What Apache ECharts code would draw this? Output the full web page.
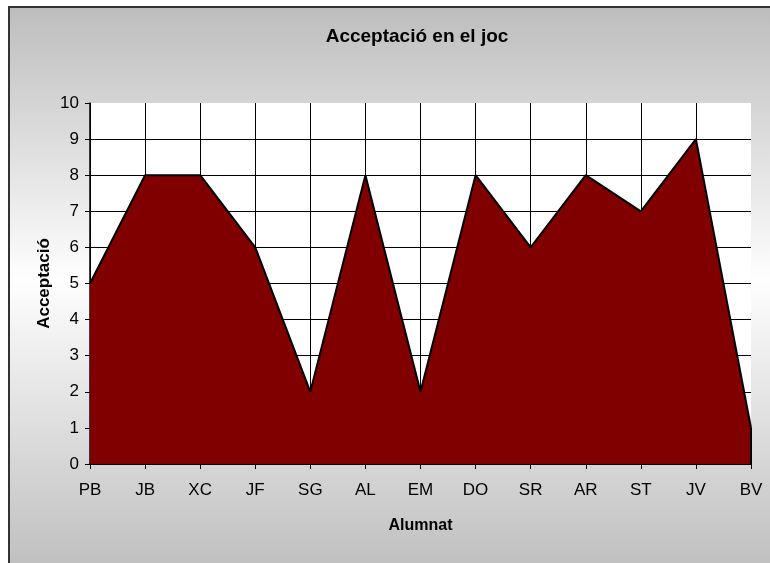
<!DOCTYPE html>
<html>
<head>
<meta charset="utf-8">
<script src="https://cdn.jsdelivr.net/npm/echarts@6/dist/echarts.min.js"></script>
<style>
    html, body { margin: 0; padding: 0; background: #fff; }
    #chart { width: 770px; height: 563px; }
</style>
</head>
<body>
<div id="chart"></div>
<script>
    // dades llegides del gràfic
    var alumnes = ['PB', 'JB', 'XC', 'JF', 'SG', 'AL', 'EM', 'DO', 'SR', 'AR', 'ST', 'JV', 'BV'];
    var acceptacio = [5, 8, 8, 6, 2, 8, 2, 8, 6, 8, 7, 9, 1];
    var yTicks = [0, 1, 2, 3, 4, 5, 6, 7, 8, 9, 10];

    var font = 'Arial, "Liberation Sans", sans-serif';

    // gridlines: the top one (10) and the last column (BV) are not drawn
    var hLineColors = yTicks.map(function (v, i) { return i === yTicks.length - 1 ? 'transparent' : '#000'; });
    var vLineColors = alumnes.map(function (v, i) { return i === alumnes.length - 1 ? 'transparent' : '#000'; });

    var lastCat = alumnes[alumnes.length - 1];
    var lastVal = acceptacio[acceptacio.length - 1];

    var myChart = echarts.init(document.getElementById('chart'));
    myChart.setOption({
        animation: false,
        backgroundColor: '#fff',
        graphic: [{
            type: 'rect',
            z: -10,
            silent: true,
            shape: { x: 9, y: 7, width: 800, height: 600 },
            style: {
                fill: new echarts.graphic.LinearGradient(0, 0, 0, 1, [
                    { offset: 0, color: '#bdbdbd' },
                    { offset: 0.455, color: '#fefefe' },
                    { offset: 0.927, color: '#c0c0c0' },
                    { offset: 1, color: '#bababa' }
                ]),
                stroke: '#333',
                lineWidth: 2
            }
        }],
        title: {
            text: 'Acceptació en el joc',
            left: 412,
            top: 22,
            textAlign: 'center',
            textStyle: { fontFamily: font, fontSize: 19, fontWeight: 'bold', color: '#000' }
        },
        grid: {
            left: 90,
            right: 19,
            top: 103,
            bottom: 99,
            show: true,
            backgroundColor: '#fff',
            borderWidth: 0
        },
        xAxis: {
            type: 'category',
            data: alumnes,
            boundaryGap: false,
            name: 'Alumnat',
            nameLocation: 'middle',
            nameGap: 54,
            nameMoveOverlap: false,
            nameTextStyle: { fontFamily: font, fontSize: 16, fontWeight: 'bold', color: '#000' },
            axisLine: { show: true, lineStyle: { color: '#000', width: 2 } },
            axisTick: { show: true, length: 5, lineStyle: { color: '#000' } },
            axisLabel: { margin: 18, fontFamily: font, fontSize: 17, color: '#000' },
            splitLine: { show: true, lineStyle: { color: vLineColors, width: 1 } }
        },
        yAxis: {
            type: 'value',
            min: 0,
            max: 10,
            interval: 1,
            name: 'Acceptació',
            nameLocation: 'middle',
            nameGap: 37,
            nameMoveOverlap: false,
            nameTextStyle: { fontFamily: font, fontSize: 17, fontWeight: 'bold', color: '#000' },
            axisLine: { show: true, lineStyle: { color: '#000', width: 1.5 } },
            axisTick: { show: true, length: 5, lineStyle: { color: '#000' } },
            axisLabel: { margin: 11, fontFamily: font, fontSize: 17, color: '#000' },
            splitLine: { show: true, lineStyle: { color: hLineColors, width: 1 } }
        },
        series: [{
            type: 'line',
            data: acceptacio,
            symbol: 'none',
            lineStyle: { color: '#000', width: 2 },
            areaStyle: { color: '#800000', opacity: 1 },
            markLine: {
                silent: true,
                symbol: 'none',
                label: { show: false },
                lineStyle: { color: '#000', width: 2, type: 'solid' },
                data: [[{ xAxis: lastCat, yAxis: 0 }, { xAxis: lastCat, yAxis: lastVal }]]
            }
        }]
    });
</script>
</body>
</html>
